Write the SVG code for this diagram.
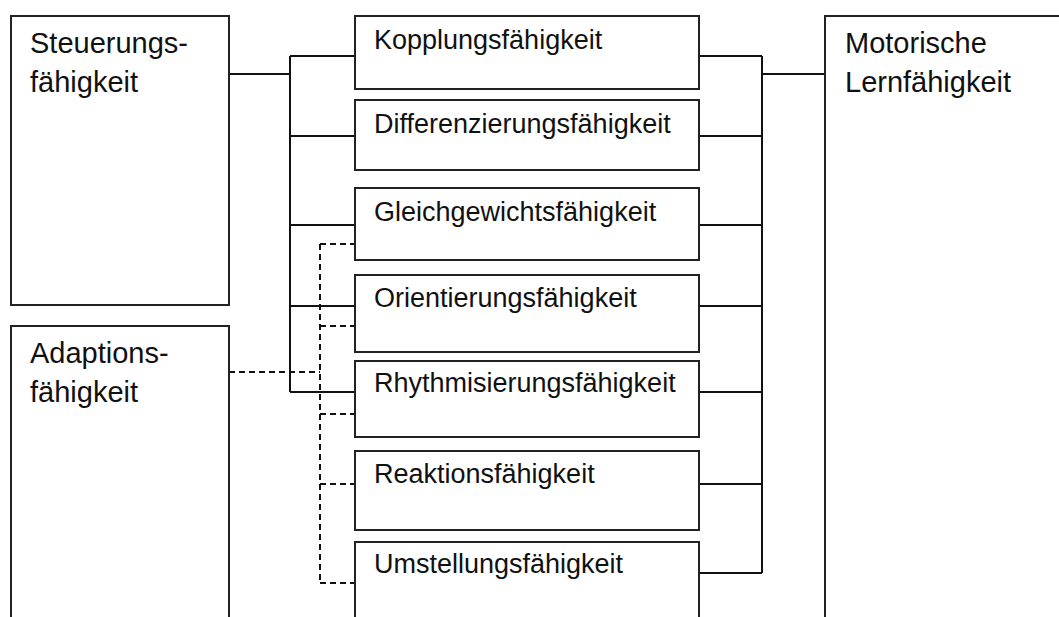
<svg xmlns="http://www.w3.org/2000/svg" width="1059" height="617" viewBox="0 0 1059 617">
  <style>
    .box { fill: #fff; stroke: #222; stroke-width: 2; }
    .big { font-family: "Liberation Sans", Arial, sans-serif; font-size: 29px; fill: #111; }
    .lbl { font-family: "Liberation Sans", Arial, sans-serif; font-size: 27px; fill: #111; }
    .solid { fill: none; stroke: #111; stroke-width: 2; }
    .dash { fill: none; stroke: #111; stroke-width: 2; stroke-dasharray: 6 4; }
  </style>
  <rect width="1059" height="617" fill="#fff"/>

  <!-- connectors -->
  <g id="connectors">
    <!-- Steuerungsfähigkeit fan-out -->
    <path class="solid" d="M229 74H290M290 56V392M290 56H355M290 136H355M290 225H355M290 306H355M290 392H355"/>
    <!-- fan-in towards Motorische Lernfähigkeit -->
    <path class="solid" d="M699 56H762M699 136H762M699 225H762M699 306H762M699 392H762M699 484H762M699 573H762M762 56V573M762 74H825"/>
    <!-- Adaptionsfähigkeit dashed links -->
    <path class="dash" d="M229 372H320"/>
    <path class="dash" d="M320 244V583"/>
    <path class="dash" d="M320 244H355M320 326H355M320 414H355M320 484H355M320 583H355"/>
  </g>

  <!-- side nodes -->
  <g id="steuerung">
    <rect class="box" x="11" y="16" width="218" height="289"/>
    <text class="big" x="30" y="53">Steuerungs-</text>
    <text class="big" x="30" y="92">fähigkeit</text>
  </g>
  <g id="adaption">
    <rect class="box" x="11" y="326" width="218" height="320"/>
    <text class="big" x="30" y="363">Adaptions-</text>
    <text class="big" x="30" y="402">fähigkeit</text>
  </g>
  <g id="motorisch">
    <rect class="box" x="825" y="16" width="260" height="630"/>
    <text class="big" x="845" y="53">Motorische</text>
    <text class="big" x="845" y="92">Lernfähigkeit</text>
  </g>

  <!-- middle column -->
  <g id="kopplung">
    <rect class="box" x="355" y="16" width="344" height="73"/>
    <text class="lbl" x="374" y="49">Kopplungsfähigkeit</text>
  </g>
  <g id="differenzierung">
    <rect class="box" x="355" y="100" width="344" height="70"/>
    <text class="lbl" x="374" y="133">Differenzierungsfähigkeit</text>
  </g>
  <g id="gleichgewicht">
    <rect class="box" x="355" y="188" width="344" height="72"/>
    <text class="lbl" x="374" y="221">Gleichgewichtsfähigkeit</text>
  </g>
  <g id="orientierung">
    <rect class="box" x="355" y="275" width="344" height="77"/>
    <text class="lbl" x="374" y="307">Orientierungsfähigkeit</text>
  </g>
  <g id="rhythmisierung">
    <rect class="box" x="355" y="361" width="344" height="76"/>
    <text class="lbl" x="374" y="392">Rhythmisierungsfähigkeit</text>
  </g>
  <g id="reaktion">
    <rect class="box" x="355" y="451" width="344" height="79"/>
    <text class="lbl" x="374" y="483">Reaktionsfähigkeit</text>
  </g>
  <g id="umstellung">
    <rect class="box" x="355" y="542" width="344" height="100"/>
    <text class="lbl" x="374" y="573">Umstellungsfähigkeit</text>
  </g>
</svg>
